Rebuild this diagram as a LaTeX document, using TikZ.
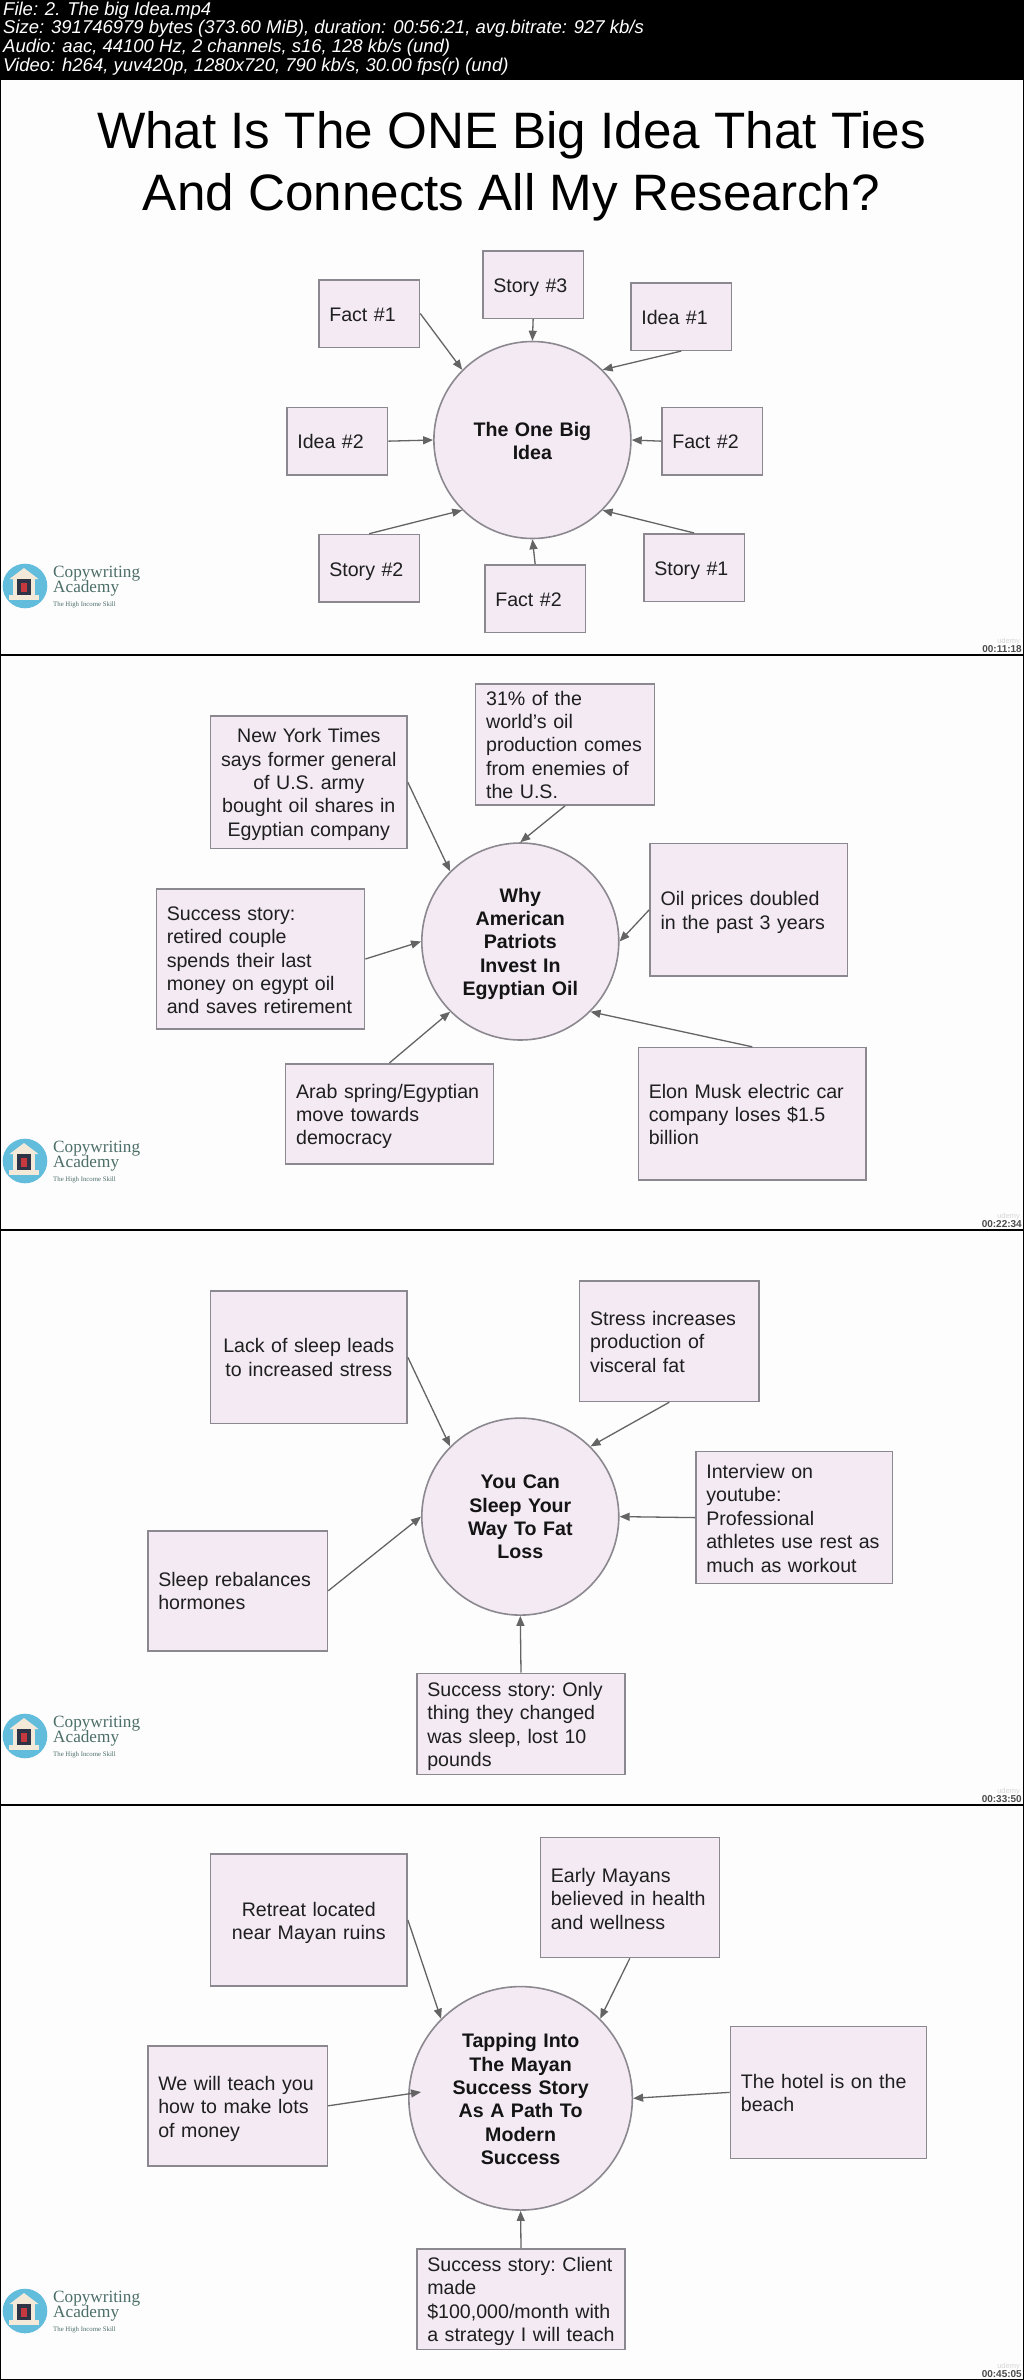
\documentclass[tikz,border=0pt]{standalone}
\usepackage{fontspec}
\usetikzlibrary{arrows.meta}
\setmainfont{Liberation Sans}
\newfontfamily\logofont{Liberation Serif}
\definecolor{boxfill}{HTML}{F3EAF3}
\definecolor{boxline}{HTML}{8C888F}
\definecolor{linkgray}{HTML}{646464}
\definecolor{slidebg}{HTML}{FDFDFE}
\definecolor{logoblue}{HTML}{62BCDC}
\definecolor{logotext}{HTML}{4C6E68}
\definecolor{logocream}{HTML}{F3E9D8}
\definecolor{logodark}{HTML}{2F3346}
\definecolor{logored}{HTML}{C8393F}
\tikzset{
	note/.style n args={3}{rectangle, draw=boxline, fill=boxfill, line width=1.6pt, anchor=north west,
		inner xsep=10.5pt, inner ysep=0pt, text width=#1-21pt, text height=#2, text depth=#3-#2,
		align=left, text=black!88, font=\fontsize{19.6}{23.4}\selectfont\frenchspacing},
	core/.style 2 args={circle, draw=boxline, fill=boxfill, line width=1.6pt, minimum size=#1, inner sep=0pt,
		text width=150pt, text height=0pt, text depth=#2,
		align=center, text=black!92, font=\fontsize{19.6}{23.4}\selectfont\bfseries},
	link/.style={every edge/.style={draw=linkgray, line width=1.3pt, -{Triangle[length=10pt,width=8pt]}}},
	info/.style={anchor=base west, inner sep=0pt, text=white, font=\fontsize{18.5}{19}\selectfont\itshape},
	clock/.style={anchor=base east, inner sep=0pt, text=black!70, font=\fontsize{10}{10}\selectfont\bfseries},
	brand/.style={anchor=base east, inner sep=0pt, text=black!16, font=\fontsize{7.5}{8}\selectfont},
	logoword/.style={anchor=base west, inner sep=0pt, text=logotext, font=\logofont\fontsize{#1}{#1}\selectfont},
	logo/.pic={
		\fill [logoblue] (25,0) circle (22.3);
		\fill [logocream] (9.5,-7) -- (24,-18) -- (38.5,-7) -- cycle;
		\fill [logocream] (13,-7) rectangle (35,9);
		\fill [logocream] (9,9) rectangle (39,14);
		\fill [logodark] (16.7,-7) rectangle (30.7,9);
		\fill [logored] (20.7,-3) rectangle (27.3,6);
		\node [logoword=17.2] (-top) at (53,-9) {Copywriting};
		\node [logoword=17.2] (-mid) at (53,6) {Academy};
		\node [logoword=6.8] (-tag) at (53,20) {The High Income Skill};
	},
}

\begin{document}
\begin{tikzpicture}[x=1pt, y=-1pt]
	\useasboundingbox (0,0) rectangle (1024,2380);
	\fill [black] (0,0) rectangle (1024,2380);
	\fill [slidebg] (1,80) rectangle (1023,654);
	\fill [slidebg] (1,655.5) rectangle (1023,1229);
	\fill [slidebg] (1,1230.5) rectangle (1023,1804);
	\fill [slidebg] (1,1805.5) rectangle (1023,2378.5);

	% file info
	\draw (3,15) node [info] (info1) {File: 2. The big Idea.mp4};
	\draw (3,33.5) node [info] (info2) {Size: 391746979 bytes (373.60 MiB), duration: 00:56:21, avg.bitrate: 927 kb/s};
	\draw (3,52) node [info] (info3) {Audio: aac, 44100 Hz, 2 channels, s16, 128 kb/s (und)};
	\draw (3,71) node [info] (info4) {Video: h264, yuv420p, 1280x720, 790 kb/s, 30.00 fps(r) (und)};

	% first slide
	\draw (511.5,166) node [align=center, inner sep=0pt, font=\fontsize{51.2}{62}\selectfont] (title) {What Is The ONE Big Idea That Ties\\And Connects All My Research?};

	\draw (532.4,440) node [core={197pt}{7pt}] (one) {The One Big\\Idea};
	\draw (318,279) node [note={100.7pt}{41.5pt}{67.5pt}] (fact1) {Fact \#1};
	\draw (482,250) node [note={100.7pt}{41.5pt}{67.5pt}] (story3) {Story \#3};
	\draw (630,282) node [note={100.7pt}{41.5pt}{67.5pt}] (idea1) {Idea \#1};
	\draw (286,406.6) node [note={100.7pt}{41.5pt}{67.5pt}] (idea2) {Idea \#2};
	\draw (661,406.6) node [note={100.7pt}{41.5pt}{67.5pt}] (fact2) {Fact \#2};
	\draw (318,533.7) node [note={100.7pt}{41.5pt}{67.5pt}] (story2) {Story \#2};
	\draw (484,564) node [note={100.7pt}{41.5pt}{67.5pt}] (fact3) {Fact \#2};
	\draw (643,533) node [note={100.7pt}{41.5pt}{67.5pt}] (story1) {Story \#1};

	\path [link]
		(fact1.east) edge (one.north west)
		(story3.south) edge (one.north)
		(idea1.south) edge (one.north east)
		(idea2.east) edge (one.west)
		(fact2.west) edge (one.east)
		(story2.north) edge (one.south west)
		(fact3.north) edge (one.south)
		(story1.north) edge (one.south east)
	;

	% second slide
	\draw (520.3,941.5) node [core={197pt}{79pt}] (oil) {Why\\American\\Patriots\\Invest In\\Egyptian Oil};
	\draw (209.7,715.4) node [note={196.6pt}{26.4pt}{132.4pt}, align=center] (times) {New York Times\\says former general\\of U.S. army\\bought oil shares in\\Egyptian company};
	\draw (474.8,683.2) node [note={179pt}{21.1pt}{121pt}] (enemies) {31\% of the\\world's oil\\production comes\\from enemies of\\the U.S.};
	\draw (649.2,842.8) node [note={197.3pt}{62pt}{132.4pt}] (prices) {Oil prices doubled\\in the past 3 years};
	\draw (155.5,888) node [note={208.3pt}{31.4pt}{140.4pt}] (couple) {Success story:\\retired couple\\spends their last\\money on egypt oil\\and saves retirement};
	\draw (284.8,1062.9) node [note={207.7pt}{34.4pt}{100.3pt}] (spring) {Arab spring/Egyptian\\move towards\\democracy};
	\draw (637.5,1046.8) node [note={227.9pt}{50.5pt}{132.4pt}] (musk) {Elon Musk electric car\\company loses \$1.5\\billion};

	\path [link]
		(times.east) edge (oil.north west)
		(enemies.south) edge (oil.north)
		(prices.west) edge (oil.east)
		(couple.east) edge (oil.west)
		(spring.north) edge (oil.south west)
		(musk.north) edge (oil.south east)
	;

	% third slide
	\draw (520.3,1516.6) node [core={197pt}{55.8pt}] (sleep) {You Can\\Sleep Your\\Way To Fat\\Loss};
	\draw (209.7,1290.4) node [note={196.6pt}{61.6pt}{132.4pt}, align=center] (lack) {Lack of sleep leads\\to increased stress};
	\draw (578.7,1280) node [note={179.6pt}{44.5pt}{120.6pt}] (visceral) {Stress increases\\production of\\visceral fat};
	\draw (695,1450.8) node [note={196.6pt}{26.8pt}{132pt}] (athletes) {Interview on\\youtube:\\Professional\\athletes use rest as\\much as workout};
	\draw (147,1530) node [note={179.6pt}{55.5pt}{120pt}] (hormones) {Sleep rebalances\\hormones};
	\draw (416,1672.7) node [note={208.4pt}{23pt}{101.1pt}] (pounds) {Success story: Only\\thing they changed\\was sleep, lost 10\\pounds};

	\path [link]
		(lack.east) edge (sleep.north west)
		(visceral.south) edge (sleep.north east)
		(athletes.west) edge (sleep.east)
		(hormones.east) edge (sleep.west)
		(pounds.north) edge (sleep.south)
	;

	% fourth slide
	\draw (520.6,2098.3) node [core={223.5pt}{101.2pt}] (mayan) {Tapping Into\\The Mayan\\Success Story\\As A Path To\\Modern\\Success};
	\draw (209.7,1853.2) node [note={196.6pt}{62pt}{132.1pt}, align=center] (ruins) {Retreat located\\near Mayan ruins};
	\draw (539.5,1836.7) node [note={179pt}{44.7pt}{120pt}] (wellness) {Early Mayans\\believed in health\\and wellness};
	\draw (729.6,2025.5) node [note={195.9pt}{61.7pt}{132.1pt}] (beach) {The hotel is on the\\beach};
	\draw (147,2045) node [note={179.6pt}{44.5pt}{120pt}] (money) {We will teach you\\how to make lots\\of money};
	\draw (416,2247.9) node [note={208.4pt}{22.5pt}{100.8pt}] (client) {\mbox{Success story: Client}\\made\\\$100,000/month with\\a strategy I will teach};
	\coordinate (moneyend) at (421,2092);

	\path [link]
		(ruins.east) edge (mayan.north west)
		(wellness.south) edge (mayan.north east)
		(beach.west) edge (mayan.east)
		(money.east) edge (moneyend)
		(client.north) edge (mayan.south)
	;

	% logos and time stamps
	\pic (logoa) at (0,586) {logo};
	\pic (logob) at (0,1161) {logo};
	\pic (logoc) at (0,1736) {logo};
	\pic (logod) at (0,2311) {logo};
	\draw (1020,643) node [brand] (branda) {udemy};
	\draw (1020,1218) node [brand] (brandb) {udemy};
	\draw (1020,1793) node [brand] (brandc) {udemy};
	\draw (1020,2368) node [brand] (brandd) {udemy};
	\draw (1022,652) node [clock] (timea) {00:11:18};
	\draw (1022,1227) node [clock] (timeb) {00:22:34};
	\draw (1022,1802) node [clock] (timec) {00:33:50};
	\draw (1022,2377) node [clock] (timed) {00:45:05};
\end{tikzpicture}
\end{document}
